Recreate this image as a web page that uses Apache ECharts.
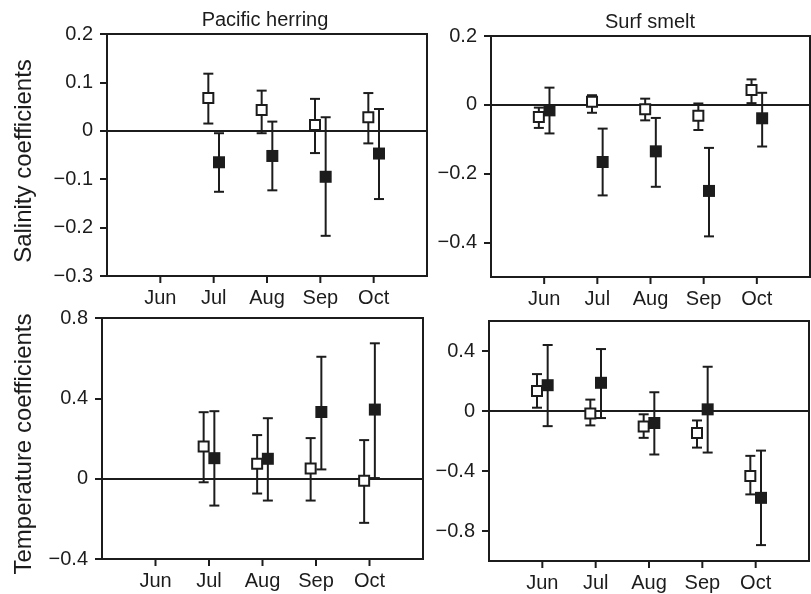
<!DOCTYPE html>
<html>
<head>
<meta charset="utf-8">
<script src="https://cdn.jsdelivr.net/npm/echarts@6/dist/echarts.min.js"></script>
<style>
  html, body { margin: 0; padding: 0; background: #fff; }
  #chart { width: 811px; height: 594px; }
</style>
</head>
<body>
<div id="chart"></div>
<script>
  // months on the x axis (positions 1..5)
  const months = ["Jun", "Jul", "Aug", "Sep", "Oct"];
  const monthPos = [1, 2, 3, 4, 5];

  // each point: [estimate, lower, upper], null = no estimate
  // Pacific herring, salinity
  const herringSalOpen = [null, [0.068, 0.015, 0.118], [0.043, -0.005, 0.083], [0.012, -0.046, 0.066], [0.028, -0.026, 0.078]];
  const herringSalFilled = [null, [-0.065, -0.005, -0.126], [-0.052, 0.019, -0.123], [-0.095, 0.028, -0.217], [-0.047, 0.045, -0.141]];
  // Surf smelt, salinity
  const smeltSalOpen = [[-0.035, -0.008, -0.067], [0.009, 0.028, -0.023], [-0.013, 0.018, -0.045], [-0.032, 0.004, -0.073], [0.043, 0.074, 0.005]];
  const smeltSalFilled = [[-0.016, 0.05, -0.083], [-0.166, -0.069, -0.263], [-0.135, -0.038, -0.238], [-0.25, -0.125, -0.382], [-0.039, 0.035, -0.121]];
  // Pacific herring, temperature
  const herringTempOpen = [null, [0.16, 0.331, -0.018], [0.074, 0.217, -0.074], [0.051, 0.202, -0.109], [-0.01, 0.192, -0.22]];
  const herringTempFilled = [null, [0.102, 0.336, -0.134], [0.099, 0.301, -0.109], [0.332, 0.607, 0.046], [0.344, 0.674, 0.003]];
  // Surf smelt, temperature
  const smeltTempOpen = [[0.134, 0.246, 0.022], [-0.016, 0.076, -0.096], [-0.103, -0.022, -0.179], [-0.147, -0.063, -0.244], [-0.434, -0.299, -0.556]];
  const smeltTempFilled = [[0.172, 0.44, -0.101], [0.188, 0.413, -0.047], [-0.08, 0.125, -0.29], [0.011, 0.295, -0.277], [-0.579, -0.264, -0.894]];

  // y tick values per panel
  const ticksHerringSal = [-0.3, -0.2, -0.1, 0, 0.1, 0.2];
  const ticksSmeltSal = [-0.4, -0.2, 0, 0.2];
  const ticksHerringTemp = [-0.4, 0, 0.4, 0.8];
  const ticksSmeltTemp = [-0.8, -0.4, 0, 0.4];

  const INK = "#1c1c1c";
  const FONT = "Liberation Sans, Arial, sans-serif";
  const SHIFT = 0.1; // open squares left, filled squares right

  const chart = echarts.init(document.getElementById("chart"));

  function fmt(v) {
    if (Math.abs(v) < 1e-9) return "0";
    return (v < 0 ? "\u2212" : "") + Math.abs(v).toFixed(1);
  }

  const panels = [
    { grid: { left: 107, top: 34, width: 320, height: 242 }, min: -0.3, max: 0.2, ticks: ticksHerringSal, open: herringSalOpen, filled: herringSalFilled },
    { grid: { left: 491, top: 36, width: 319, height: 241 }, min: -0.5, max: 0.2, ticks: ticksSmeltSal, open: smeltSalOpen, filled: smeltSalFilled },
    { grid: { left: 102, top: 318, width: 321, height: 241 }, min: -0.4, max: 0.8, ticks: ticksHerringTemp, open: herringTempOpen, filled: herringTempFilled },
    { grid: { left: 489, top: 321, width: 320, height: 240 }, min: -1.0, max: 0.6, ticks: ticksSmeltTemp, open: smeltTempOpen, filled: smeltTempFilled },
  ];

  const grids = [], xAxes = [], yAxes = [], series = [];

  function points(list, dx) {
    const out = [];
    list.forEach((p, i) => { if (p) out.push([i + 1 + dx, p[0]]); });
    return out;
  }
  function bars(list, dx) {
    const out = [];
    list.forEach((p, i) => { if (p) out.push([i + 1 + dx, p[1], p[2]]); });
    return out;
  }

  function renderErr(params, api) {
    const x = api.value(0);
    const a = api.coord([x, api.value(1)]);
    const b = api.coord([x, api.value(2)]);
    const cap = 5;
    const style = { stroke: INK, lineWidth: 2 };
    return {
      type: "group",
      children: [
        { type: "line", shape: { x1: a[0], y1: a[1], x2: b[0], y2: b[1] }, style },
        { type: "line", shape: { x1: a[0] - cap, y1: a[1], x2: a[0] + cap, y2: a[1] }, style },
        { type: "line", shape: { x1: b[0] - cap, y1: b[1], x2: b[0] + cap, y2: b[1] }, style },
      ],
    };
  }

  // month ticks below the bottom axis (axis ticks get hidden under the labels here)
  function renderTick(params, api) {
    const p = api.coord([api.value(0), api.value(1)]);
    return { type: "line", shape: { x1: p[0], y1: p[1], x2: p[0], y2: p[1] + 7 }, style: { stroke: INK, lineWidth: 2 } };
  }

  panels.forEach((p, k) => {
    grids.push(Object.assign({ show: true, borderColor: INK, borderWidth: 2, backgroundColor: "transparent" }, p.grid));
    xAxes.push({
      type: "value", gridIndex: k, min: 0, max: 6, interval: 1, position: "bottom",
      axisLine: { show: true, onZero: false, lineStyle: { color: INK, width: 2 } },
      axisTick: { show: false },
      axisLabel: { customValues: monthPos, formatter: v => months[Math.round(v) - 1] || "", color: INK, fontSize: 20, fontFamily: FONT, margin: 12 },
      splitLine: { show: false },
    });
    yAxes.push({
      type: "value", gridIndex: k, min: p.min, max: p.max, position: "left",
      axisLine: { show: true, onZero: false, lineStyle: { color: INK, width: 2 } },
      axisTick: { show: true, inside: false, length: 7, customValues: p.ticks, lineStyle: { color: INK, width: 2 } },
      axisLabel: { customValues: p.ticks, formatter: fmt, color: INK, fontSize: 20, fontFamily: FONT, margin: 14 },
      splitLine: { show: false },
    });
    series.push({
      type: "custom", xAxisIndex: k, yAxisIndex: k, renderItem: renderTick, clip: false,
      encode: { x: 0, y: 1 }, data: monthPos.map(m => [m, p.min]), z: 3, silent: true,
    });
    series.push({
      type: "custom", xAxisIndex: k, yAxisIndex: k, renderItem: renderErr,
      encode: { x: 0, y: [1, 2] }, data: bars(p.open, -SHIFT), z: 2, silent: true,
    });
    series.push({
      type: "custom", xAxisIndex: k, yAxisIndex: k, renderItem: renderErr,
      encode: { x: 0, y: [1, 2] }, data: bars(p.filled, SHIFT), z: 2, silent: true,
    });
    series.push({
      type: "scatter", xAxisIndex: k, yAxisIndex: k, symbol: "rect", symbolSize: 10,
      data: points(p.open, -SHIFT), z: 4,
      itemStyle: { color: "#fff", borderColor: INK, borderWidth: 2, opacity: 1 },
      markLine: {
        silent: true, symbol: "none", label: { show: false },
        lineStyle: { color: INK, width: 1.8, type: "solid" },
        data: [{ yAxis: 0 }], z: 1,
      },
    });
    series.push({
      type: "scatter", xAxisIndex: k, yAxisIndex: k, symbol: "rect", symbolSize: 12,
      data: points(p.filled, SHIFT), z: 4,
      itemStyle: { color: INK, opacity: 1 },
    });
  });

  chart.setOption({
    animation: false,
    backgroundColor: "#fff",
    grid: grids,
    xAxis: xAxes,
    yAxis: yAxes,
    series: series,
    graphic: [
      { type: "text", x: 265, y: 20, style: { text: "Pacific herring", fill: INK, font: "20px " + FONT, align: "center", verticalAlign: "middle" } },
      { type: "text", x: 650, y: 22, style: { text: "Surf smelt", fill: INK, font: "20px " + FONT, align: "center", verticalAlign: "middle" } },
      { type: "text", x: 24, y: 161, rotation: Math.PI / 2, style: { text: "Salinity coefficients", fill: INK, font: "24px " + FONT, align: "center", verticalAlign: "middle" } },
      { type: "text", x: 24, y: 444, rotation: Math.PI / 2, style: { text: "Temperature coefficients", fill: INK, font: "24px " + FONT, align: "center", verticalAlign: "middle" } },
    ],
  });
</script>
</body>
</html>
